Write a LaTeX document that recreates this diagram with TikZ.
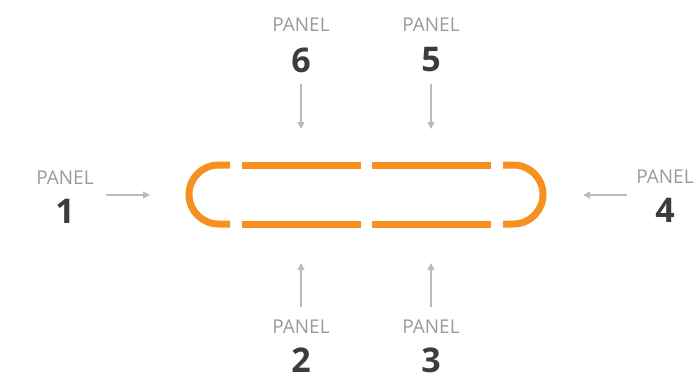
\documentclass[tikz,border=0pt]{standalone}
\usepackage{fontspec}
\setmainfont{Open Sans}
\usetikzlibrary{arrows.meta}
\definecolor{orng}{HTML}{F7901E}
\definecolor{numc}{HTML}{3C3C3C}
\definecolor{lblc}{HTML}{9A9A9A}
\definecolor{arrc}{HTML}{BBBBBB}
\tikzset{
  seg/.style={draw=orng, line width=7pt},
  lbl/.style={text=lblc, font=\fontsize{19}{19}\selectfont, inner sep=0pt},
  num/.style={text=numc, font=\fontsize{34}{34}\selectfont\bfseries, inner sep=0pt},
  arr/.style={draw=arrc, line width=1.2pt, -{Triangle[length=7pt,width=7pt]}}
}
\begin{document}
\begin{tikzpicture}[x=1pt,y=-1pt]
\useasboundingbox (0,0) rectangle (695,389);
% frame segments
\draw[seg] (230,165) -- (218.5,165) arc[start angle=270, end angle=90, radius=29.5] -- (230,224);
\draw[seg] (242,165) -- (361,165);
\draw[seg] (242,224) -- (361,224);
\draw[seg] (372,165) -- (491,165);
\draw[seg] (372,224) -- (491,224);
\draw[seg] (503,165) -- (513.5,165) arc[start angle=-90, end angle=90, radius=29.5] -- (503,224);
% labels
\node[lbl] (p1) at (65,178) {PANEL};
\node[num] (n1) at (65,211) {1};
\node[lbl] (p4) at (665,177) {PANEL};
\node[num] (n4) at (665,210) {4};
\node[lbl] (p6) at (301,25) {PANEL};
\node[num] (n6) at (301,60) {6};
\node[lbl] (p5) at (431,25) {PANEL};
\node[num] (n5) at (431,60) {5};
\node[lbl] (p2) at (301,327) {PANEL};
\node[num] (n2) at (301,360) {2};
\node[lbl] (p3) at (431,327) {PANEL};
\node[num] (n3) at (431,360) {3};
% arrow endpoints
\coordinate (a1s) at (106,195); \coordinate (a1e) at (150,195);
\coordinate (a4s) at (627,195); \coordinate (a4e) at (583,195);
\coordinate (a6s) at (301,84); \coordinate (a6e) at (301,129);
\coordinate (a5s) at (431,84); \coordinate (a5e) at (431,129);
\coordinate (a2s) at (301,307); \coordinate (a2e) at (301,263);
\coordinate (a3s) at (431,307); \coordinate (a3e) at (431,263);
\draw[arr] (a1s) -- (a1e);
\draw[arr] (a4s) -- (a4e);
\draw[arr] (a6s) -- (a6e);
\draw[arr] (a5s) -- (a5e);
\draw[arr] (a2s) -- (a2e);
\draw[arr] (a3s) -- (a3e);
\end{tikzpicture}
\end{document}
